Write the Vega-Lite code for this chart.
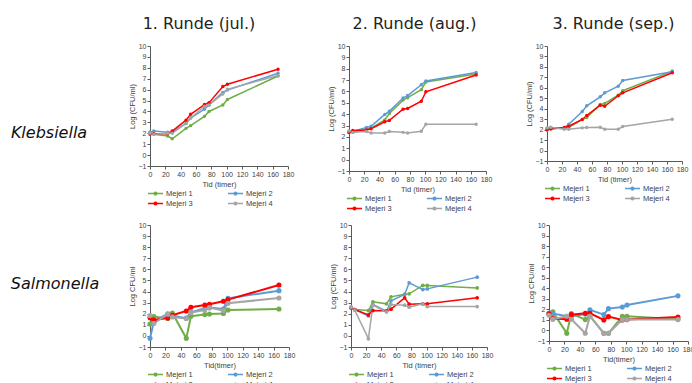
{
"$schema": "https://vega.github.io/schema/vega-lite/v6.json",
"padding": {"left": 5, "top": 16, "right": 5, "bottom": 5},
"background": "white",
"spacing": 1,
"resolve": {"legend": {"color": "independent"}},
"datasets": {
"d1": [
{"m":"Mejeri 1","t":0,"v":2.1},{"m":"Mejeri 1","t":5,"v":1.9},{"m":"Mejeri 1","t":23,"v":1.75},{"m":"Mejeri 1","t":29,"v":1.5},{"m":"Mejeri 1","t":47,"v":2.45},{"m":"Mejeri 1","t":53,"v":2.7},{"m":"Mejeri 1","t":71,"v":3.55},{"m":"Mejeri 1","t":77,"v":4.0},{"m":"Mejeri 1","t":95,"v":4.6},{"m":"Mejeri 1","t":101,"v":5.1},{"m":"Mejeri 1","t":167,"v":7.25},
{"m":"Mejeri 2","t":0,"v":2.1},{"m":"Mejeri 2","t":5,"v":2.2},{"m":"Mejeri 2","t":23,"v":2.1},{"m":"Mejeri 2","t":29,"v":2.1},{"m":"Mejeri 2","t":47,"v":2.9},{"m":"Mejeri 2","t":53,"v":3.4},{"m":"Mejeri 2","t":71,"v":4.2},{"m":"Mejeri 2","t":77,"v":4.6},{"m":"Mejeri 2","t":95,"v":5.75},{"m":"Mejeri 2","t":101,"v":5.97},{"m":"Mejeri 2","t":167,"v":7.5},
{"m":"Mejeri 3","t":0,"v":1.9},{"m":"Mejeri 3","t":5,"v":1.95},{"m":"Mejeri 3","t":23,"v":1.95},{"m":"Mejeri 3","t":29,"v":2.2},{"m":"Mejeri 3","t":47,"v":3.2},{"m":"Mejeri 3","t":53,"v":3.74},{"m":"Mejeri 3","t":71,"v":4.63},{"m":"Mejeri 3","t":77,"v":4.81},{"m":"Mejeri 3","t":95,"v":6.28},{"m":"Mejeri 3","t":101,"v":6.49},{"m":"Mejeri 3","t":167,"v":7.87},
{"m":"Mejeri 4","t":0,"v":2.0},{"m":"Mejeri 4","t":5,"v":1.9},{"m":"Mejeri 4","t":23,"v":2.0},{"m":"Mejeri 4","t":29,"v":2.0},{"m":"Mejeri 4","t":47,"v":2.9},{"m":"Mejeri 4","t":53,"v":3.4},{"m":"Mejeri 4","t":71,"v":4.45},{"m":"Mejeri 4","t":77,"v":4.6},{"m":"Mejeri 4","t":95,"v":5.6},{"m":"Mejeri 4","t":101,"v":6.03},{"m":"Mejeri 4","t":167,"v":7.3}
],
"d2": [
{"m":"Mejeri 1","t":0,"v":2.38},{"m":"Mejeri 1","t":5,"v":2.4},{"m":"Mejeri 1","t":23,"v":2.7},{"m":"Mejeri 1","t":29,"v":2.78},{"m":"Mejeri 1","t":47,"v":3.5},{"m":"Mejeri 1","t":53,"v":4.07},{"m":"Mejeri 1","t":71,"v":5.24},{"m":"Mejeri 1","t":77,"v":5.45},{"m":"Mejeri 1","t":95,"v":6.16},{"m":"Mejeri 1","t":101,"v":6.83},{"m":"Mejeri 1","t":167,"v":7.54},
{"m":"Mejeri 2","t":0,"v":2.5},{"m":"Mejeri 2","t":5,"v":2.47},{"m":"Mejeri 2","t":23,"v":2.84},{"m":"Mejeri 2","t":29,"v":2.93},{"m":"Mejeri 2","t":47,"v":3.98},{"m":"Mejeri 2","t":53,"v":4.25},{"m":"Mejeri 2","t":71,"v":5.42},{"m":"Mejeri 2","t":77,"v":5.64},{"m":"Mejeri 2","t":95,"v":6.59},{"m":"Mejeri 2","t":101,"v":6.93},{"m":"Mejeri 2","t":167,"v":7.66},
{"m":"Mejeri 3","t":0,"v":2.38},{"m":"Mejeri 3","t":5,"v":2.56},{"m":"Mejeri 3","t":23,"v":2.6},{"m":"Mejeri 3","t":29,"v":2.72},{"m":"Mejeri 3","t":47,"v":3.33},{"m":"Mejeri 3","t":53,"v":3.45},{"m":"Mejeri 3","t":71,"v":4.44},{"m":"Mejeri 3","t":77,"v":4.5},{"m":"Mejeri 3","t":95,"v":5.14},{"m":"Mejeri 3","t":101,"v":5.97},{"m":"Mejeri 3","t":167,"v":7.45},
{"m":"Mejeri 4","t":0,"v":2.53},{"m":"Mejeri 4","t":5,"v":2.4},{"m":"Mejeri 4","t":23,"v":2.47},{"m":"Mejeri 4","t":29,"v":2.35},{"m":"Mejeri 4","t":47,"v":2.35},{"m":"Mejeri 4","t":53,"v":2.47},{"m":"Mejeri 4","t":71,"v":2.4},{"m":"Mejeri 4","t":77,"v":2.35},{"m":"Mejeri 4","t":95,"v":2.5},{"m":"Mejeri 4","t":101,"v":3.12},{"m":"Mejeri 4","t":167,"v":3.12}
],
"d3": [
{"m":"Mejeri 1","t":0,"v":1.94},{"m":"Mejeri 1","t":5,"v":2.1},{"m":"Mejeri 1","t":23,"v":2.13},{"m":"Mejeri 1","t":29,"v":2.23},{"m":"Mejeri 1","t":47,"v":2.97},{"m":"Mejeri 1","t":53,"v":3.16},{"m":"Mejeri 1","t":71,"v":4.4},{"m":"Mejeri 1","t":77,"v":4.5},{"m":"Mejeri 1","t":95,"v":5.3},{"m":"Mejeri 1","t":101,"v":5.72},{"m":"Mejeri 1","t":167,"v":7.6},
{"m":"Mejeri 2","t":0,"v":2.1},{"m":"Mejeri 2","t":5,"v":2.17},{"m":"Mejeri 2","t":23,"v":2.2},{"m":"Mejeri 2","t":29,"v":2.52},{"m":"Mejeri 2","t":47,"v":3.73},{"m":"Mejeri 2","t":53,"v":4.28},{"m":"Mejeri 2","t":71,"v":5.14},{"m":"Mejeri 2","t":77,"v":5.52},{"m":"Mejeri 2","t":95,"v":6.16},{"m":"Mejeri 2","t":101,"v":6.7},{"m":"Mejeri 2","t":167,"v":7.54},
{"m":"Mejeri 3","t":0,"v":2.0},{"m":"Mejeri 3","t":5,"v":2.07},{"m":"Mejeri 3","t":23,"v":2.2},{"m":"Mejeri 3","t":29,"v":2.33},{"m":"Mejeri 3","t":47,"v":2.97},{"m":"Mejeri 3","t":53,"v":3.35},{"m":"Mejeri 3","t":71,"v":4.34},{"m":"Mejeri 3","t":77,"v":4.24},{"m":"Mejeri 3","t":95,"v":5.24},{"m":"Mejeri 3","t":101,"v":5.52},{"m":"Mejeri 3","t":167,"v":7.44},
{"m":"Mejeri 4","t":0,"v":2.17},{"m":"Mejeri 4","t":5,"v":2.23},{"m":"Mejeri 4","t":23,"v":2.04},{"m":"Mejeri 4","t":29,"v":2.04},{"m":"Mejeri 4","t":47,"v":2.17},{"m":"Mejeri 4","t":53,"v":2.2},{"m":"Mejeri 4","t":71,"v":2.23},{"m":"Mejeri 4","t":77,"v":2.04},{"m":"Mejeri 4","t":95,"v":2.04},{"m":"Mejeri 4","t":101,"v":2.3},{"m":"Mejeri 4","t":167,"v":3.0}
],
"d4": [
{"m":"Mejeri 1","t":0,"v":1.07},{"m":"Mejeri 1","t":5,"v":1.74},{"m":"Mejeri 1","t":23,"v":1.58},{"m":"Mejeri 1","t":29,"v":2.07},{"m":"Mejeri 1","t":47,"v":-0.22},{"m":"Mejeri 1","t":53,"v":1.77},{"m":"Mejeri 1","t":71,"v":1.92},{"m":"Mejeri 1","t":77,"v":1.98},{"m":"Mejeri 1","t":95,"v":2.03},{"m":"Mejeri 1","t":101,"v":2.34},{"m":"Mejeri 1","t":167,"v":2.43},
{"m":"Mejeri 2","t":0,"v":-0.22},{"m":"Mejeri 2","t":5,"v":1.28},{"m":"Mejeri 2","t":23,"v":2.0},{"m":"Mejeri 2","t":29,"v":1.83},{"m":"Mejeri 2","t":47,"v":1.6},{"m":"Mejeri 2","t":53,"v":2.13},{"m":"Mejeri 2","t":71,"v":2.49},{"m":"Mejeri 2","t":77,"v":2.55},{"m":"Mejeri 2","t":95,"v":2.43},{"m":"Mejeri 2","t":101,"v":3.39},{"m":"Mejeri 2","t":167,"v":4.08},
{"m":"Mejeri 3","t":0,"v":1.64},{"m":"Mejeri 3","t":5,"v":1.43},{"m":"Mejeri 3","t":23,"v":1.61},{"m":"Mejeri 3","t":29,"v":1.86},{"m":"Mejeri 3","t":47,"v":2.25},{"m":"Mejeri 3","t":53,"v":2.58},{"m":"Mejeri 3","t":71,"v":2.79},{"m":"Mejeri 3","t":77,"v":2.85},{"m":"Mejeri 3","t":95,"v":3.12},{"m":"Mejeri 3","t":101,"v":3.27},{"m":"Mejeri 3","t":167,"v":4.59},
{"m":"Mejeri 4","t":0,"v":1.83},{"m":"Mejeri 4","t":5,"v":1.13},{"m":"Mejeri 4","t":23,"v":1.95},{"m":"Mejeri 4","t":29,"v":1.7},{"m":"Mejeri 4","t":47,"v":1.58},{"m":"Mejeri 4","t":53,"v":2.1},{"m":"Mejeri 4","t":71,"v":2.34},{"m":"Mejeri 4","t":77,"v":2.55},{"m":"Mejeri 4","t":95,"v":2.28},{"m":"Mejeri 4","t":101,"v":2.94},{"m":"Mejeri 4","t":167,"v":3.42}
],
"d5": [
{"m":"Mejeri 1","t":0,"v":2.59},{"m":"Mejeri 1","t":5,"v":2.38},{"m":"Mejeri 1","t":23,"v":2.29},{"m":"Mejeri 1","t":29,"v":3.07},{"m":"Mejeri 1","t":47,"v":2.89},{"m":"Mejeri 1","t":53,"v":3.52},{"m":"Mejeri 1","t":71,"v":3.76},{"m":"Mejeri 1","t":77,"v":3.79},{"m":"Mejeri 1","t":95,"v":4.55},{"m":"Mejeri 1","t":101,"v":4.55},{"m":"Mejeri 1","t":167,"v":4.33},
{"m":"Mejeri 2","t":0,"v":2.53},{"m":"Mejeri 2","t":5,"v":2.38},{"m":"Mejeri 2","t":23,"v":1.8},{"m":"Mejeri 2","t":29,"v":2.83},{"m":"Mejeri 2","t":47,"v":2.22},{"m":"Mejeri 2","t":53,"v":3.16},{"m":"Mejeri 2","t":71,"v":3.73},{"m":"Mejeri 2","t":77,"v":4.79},{"m":"Mejeri 2","t":95,"v":4.18},{"m":"Mejeri 2","t":101,"v":4.24},{"m":"Mejeri 2","t":167,"v":5.3},
{"m":"Mejeri 3","t":0,"v":2.53},{"m":"Mejeri 3","t":5,"v":2.38},{"m":"Mejeri 3","t":23,"v":1.89},{"m":"Mejeri 3","t":29,"v":2.29},{"m":"Mejeri 3","t":47,"v":2.26},{"m":"Mejeri 3","t":53,"v":2.41},{"m":"Mejeri 3","t":71,"v":3.43},{"m":"Mejeri 3","t":77,"v":2.86},{"m":"Mejeri 3","t":95,"v":2.89},{"m":"Mejeri 3","t":101,"v":2.89},{"m":"Mejeri 3","t":167,"v":3.43},
{"m":"Mejeri 4","t":0,"v":2.59},{"m":"Mejeri 4","t":5,"v":2.32},{"m":"Mejeri 4","t":23,"v":-0.25},{"m":"Mejeri 4","t":29,"v":2.77},{"m":"Mejeri 4","t":47,"v":2.16},{"m":"Mejeri 4","t":53,"v":2.83},{"m":"Mejeri 4","t":71,"v":2.77},{"m":"Mejeri 4","t":77,"v":2.59},{"m":"Mejeri 4","t":95,"v":2.89},{"m":"Mejeri 4","t":101,"v":2.65},{"m":"Mejeri 4","t":167,"v":2.65}
],
"d6": [
{"m":"Mejeri 1","t":0,"v":1.63},{"m":"Mejeri 1","t":5,"v":1.76},{"m":"Mejeri 1","t":23,"v":-0.27},{"m":"Mejeri 1","t":29,"v":1.6},{"m":"Mejeri 1","t":47,"v":1.03},{"m":"Mejeri 1","t":53,"v":1.38},{"m":"Mejeri 1","t":71,"v":-0.27},{"m":"Mejeri 1","t":77,"v":-0.27},{"m":"Mejeri 1","t":95,"v":1.35},{"m":"Mejeri 1","t":101,"v":1.35},{"m":"Mejeri 1","t":167,"v":1.06},
{"m":"Mejeri 2","t":0,"v":1.6},{"m":"Mejeri 2","t":5,"v":1.6},{"m":"Mejeri 2","t":23,"v":1.35},{"m":"Mejeri 2","t":29,"v":1.35},{"m":"Mejeri 2","t":47,"v":1.55},{"m":"Mejeri 2","t":53,"v":1.95},{"m":"Mejeri 2","t":71,"v":1.5},{"m":"Mejeri 2","t":77,"v":2.07},{"m":"Mejeri 2","t":95,"v":2.23},{"m":"Mejeri 2","t":101,"v":2.42},{"m":"Mejeri 2","t":167,"v":3.28},
{"m":"Mejeri 3","t":0,"v":1.57},{"m":"Mejeri 3","t":5,"v":1.12},{"m":"Mejeri 3","t":23,"v":1.06},{"m":"Mejeri 3","t":29,"v":1.5},{"m":"Mejeri 3","t":47,"v":1.63},{"m":"Mejeri 3","t":53,"v":1.63},{"m":"Mejeri 3","t":71,"v":1.0},{"m":"Mejeri 3","t":77,"v":1.31},{"m":"Mejeri 3","t":95,"v":1.0},{"m":"Mejeri 3","t":101,"v":1.03},{"m":"Mejeri 3","t":167,"v":1.28},
{"m":"Mejeri 4","t":0,"v":1.44},{"m":"Mejeri 4","t":5,"v":1.06},{"m":"Mejeri 4","t":23,"v":1.35},{"m":"Mejeri 4","t":29,"v":1.06},{"m":"Mejeri 4","t":47,"v":-0.27},{"m":"Mejeri 4","t":53,"v":1.35},{"m":"Mejeri 4","t":71,"v":-0.27},{"m":"Mejeri 4","t":77,"v":-0.27},{"m":"Mejeri 4","t":95,"v":1.03},{"m":"Mejeri 4","t":101,"v":1.03},{"m":"Mejeri 4","t":167,"v":1.03}
]
},
"vconcat": [
{
"bounds": "flush", "spacing": 57,
"resolve": {"legend": {"color": "independent"}},
"hconcat": [
{"width": 88, "height": 174, "data": {"values": [{"n": "Klebsiella"}]},
 "mark": {"type": "text", "font": "DejaVu Sans", "fontSize": 16, "fontStyle": "italic", "color": "#111"},
 "encoding": {"text": {"field": "n"}}},
{"bounds": "flush", "spacing": 61,
 "resolve": {"legend": {"color": "independent"}},
 "hconcat": [
 {"width": 138, "height": 120, "title": {"text": "1. Runde (jul.)", "dx": -20},
  "data": {"name": "d1"},
  "encoding": {
   "x": {"field": "t", "type": "quantitative", "scale": {"domain": [0, 180], "nice": false}, "axis": {"values": [0,20,40,60,80,100,120,140,160,180], "title": "Tid (timer)"}},
   "y": {"field": "v", "type": "quantitative", "scale": {"domain": [-1, 10], "nice": false}, "axis": {"values": [-1,0,1,2,3,4,5,6,7,8,9,10], "title": "Log (CFU/ml)"}},
   "color": {"field": "m", "type": "nominal", "scale": {"domain": ["Mejeri 1","Mejeri 2","Mejeri 3","Mejeri 4"], "range": ["#70AD47","#5B9BD5","#FF0000","#A5A5A5"]}}
  },
  "layer": [{"mark": {"type": "line", "strokeWidth": 1.5}}, {"mark": {"type": "point", "filled": true, "size": 12, "opacity": 1}}]},
 {"width": 137, "height": 125, "title": {"text": "2. Runde (aug.)", "dx": -3},
  "data": {"name": "d2"},
  "encoding": {
   "x": {"field": "t", "type": "quantitative", "scale": {"domain": [0, 180], "nice": false}, "axis": {"values": [0,20,40,60,80,100,120,140,160,180], "title": "Tid (timer)"}},
   "y": {"field": "v", "type": "quantitative", "scale": {"domain": [-1, 10], "nice": false}, "axis": {"values": [-1,0,1,2,3,4,5,6,7,8,9,10], "title": "Log (CFU/ml)"}},
   "color": {"field": "m", "type": "nominal", "scale": {"domain": ["Mejeri 1","Mejeri 2","Mejeri 3","Mejeri 4"], "range": ["#70AD47","#5B9BD5","#FF0000","#A5A5A5"]}}
  },
  "layer": [{"mark": {"type": "line", "strokeWidth": 1.5}}, {"mark": {"type": "point", "filled": true, "size": 12, "opacity": 1}}]},
 {"width": 135, "height": 115, "title": {"text": "3. Runde (sep.)", "dx": -1},
  "data": {"name": "d3"},
  "encoding": {
   "x": {"field": "t", "type": "quantitative", "scale": {"domain": [0, 180], "nice": false}, "axis": {"values": [0,20,40,60,80,100,120,140,160,180], "title": "Tid (timer)"}},
   "y": {"field": "v", "type": "quantitative", "scale": {"domain": [-1, 10], "nice": false}, "axis": {"values": [-1,0,1,2,3,4,5,6,7,8,9,10], "title": "Log (CFU/ml)"}},
   "color": {"field": "m", "type": "nominal", "scale": {"domain": ["Mejeri 1","Mejeri 2","Mejeri 3","Mejeri 4"], "range": ["#70AD47","#5B9BD5","#FF0000","#A5A5A5"]}}
  },
  "layer": [{"mark": {"type": "line", "strokeWidth": 1.5}}, {"mark": {"type": "point", "filled": true, "size": 12, "opacity": 1}}]}
 ]}
]
},
{
"bounds": "flush", "spacing": 45,
"resolve": {"legend": {"color": "independent"}},
"hconcat": [
{"width": 100, "height": 117, "data": {"values": [{"n": "Salmonella"}]},
 "mark": {"type": "text", "font": "DejaVu Sans", "fontSize": 16, "fontStyle": "italic", "color": "#111"},
 "encoding": {"text": {"field": "n"}}},
{"bounds": "flush", "spacing": 62,
 "resolve": {"legend": {"color": "independent"}},
 "hconcat": [
 {"width": 139, "height": 122,
  "data": {"name": "d4"},
  "encoding": {
   "x": {"field": "t", "type": "quantitative", "scale": {"domain": [0, 180], "nice": false}, "axis": {"values": [0,20,40,60,80,100,120,140,160,180], "title": "Tid(timer)"}},
   "y": {"field": "v", "type": "quantitative", "scale": {"domain": [-1, 10], "nice": false}, "axis": {"values": [-1,0,1,2,3,4,5,6,7,8,9,10], "title": "Log CFU/ml"}},
   "color": {"field": "m", "type": "nominal", "scale": {"domain": ["Mejeri 1","Mejeri 2","Mejeri 3","Mejeri 4"], "range": ["#70AD47","#5B9BD5","#FF0000","#A5A5A5"]}}
  },
  "layer": [{"mark": {"type": "line", "strokeWidth": 2}}, {"mark": {"type": "point", "filled": true, "size": 26, "opacity": 1}}]},
 {"width": 136, "height": 122,
  "data": {"name": "d5"},
  "encoding": {
   "x": {"field": "t", "type": "quantitative", "scale": {"domain": [0, 180], "nice": false}, "axis": {"values": [0,20,40,60,80,100,120,140,160,180], "title": "Tid (timer)"}},
   "y": {"field": "v", "type": "quantitative", "scale": {"domain": [-1, 10], "nice": false}, "axis": {"values": [-1,0,1,2,3,4,5,6,7,8,9,10], "title": "Log (CFU/ml)"}},
   "color": {"field": "m", "type": "nominal", "scale": {"domain": ["Mejeri 1","Mejeri 2","Mejeri 3","Mejeri 4"], "range": ["#70AD47","#5B9BD5","#FF0000","#A5A5A5"]}}
  },
  "layer": [{"mark": {"type": "line", "strokeWidth": 1.5}}, {"mark": {"type": "point", "filled": true, "size": 14, "opacity": 1}}]},
 {"width": 139, "height": 116,
  "data": {"name": "d6"},
  "encoding": {
   "x": {"field": "t", "type": "quantitative", "scale": {"domain": [0, 180], "nice": false}, "axis": {"values": [0,20,40,60,80,100,120,140,160,180], "title": "Tid(timer)"}},
   "y": {"field": "v", "type": "quantitative", "scale": {"domain": [-1, 10], "nice": false}, "axis": {"values": [-1,0,1,2,3,4,5,6,7,8,9,10], "title": "Log CFU/ml"}},
   "color": {"field": "m", "type": "nominal", "scale": {"domain": ["Mejeri 1","Mejeri 2","Mejeri 3","Mejeri 4"], "range": ["#70AD47","#5B9BD5","#FF0000","#A5A5A5"]}}
  },
  "layer": [{"mark": {"type": "line", "strokeWidth": 2}}, {"mark": {"type": "point", "filled": true, "size": 26, "opacity": 1}}]}
 ]}
]
}
],
"config": {
 "view": {"stroke": null},
 "title": {"font": "DejaVu Sans", "fontSize": 16, "fontWeight": "normal", "color": "#222", "baseline": "alphabetic", "offset": 10, "anchor": "middle"},
 "axis": {"grid": false, "domainColor": "#595959", "tickColor": "#595959", "tickSize": 3, "labelFont": "Liberation Sans", "labelFontSize": 7, "labelColor": "#404040", "labelPadding": 1, "labelFlush": false, "labelOverlap": false, "titleFont": "Liberation Sans", "titleFontSize": 7.5, "titleFontWeight": "normal", "titleColor": "#404040", "titlePadding": 2},
 "axisX": {"titlePadding": 3},
 "legend": {"orient": "bottom", "direction": "horizontal", "columns": 2, "title": null, "labelFont": "Liberation Sans", "labelFontSize": 7.5, "labelColor": "#404040", "symbolType": "M-1.67,0H1.67M-0.3,0A0.3,0.3,0,1,0,0.3,0A0.3,0.3,0,1,0,-0.3,0", "symbolSize": 81, "symbolStrokeWidth": 1.5, "columnPadding": 31, "rowPadding": 0, "offset": 0, "padding": 0, "labelOffset": 5}
}
}
